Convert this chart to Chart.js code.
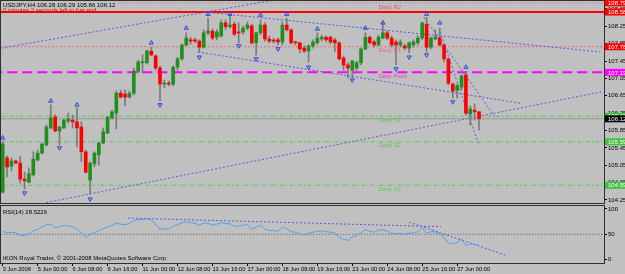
<!DOCTYPE html>
<html><head><meta charset="utf-8">
<script src="https://cdn.jsdelivr.net/npm/chart.js@4.4.1/dist/chart.umd.min.js"></script>
<style>
html,body{margin:0;padding:0;background:#c0c0c0;width:625px;height:274px;overflow:hidden}
#c1{position:absolute;left:0;top:0}
#c2{position:absolute;left:0;top:205px}
</style></head><body>
<canvas id="c1" width="625" height="205"></canvas>
<canvas id="c2" width="625" height="69"></canvas>
<script>
// ---------------- DATA ----------------
const symbol = 'USDJPY', timeframe = 'H4';
const opens = [104.43,105.22,105.03,105.15,105.10,104.73,104.66,104.83,105.17,105.33,
105.52,105.91,106.16,105.84,105.91,106.07,106.09,106.05,105.93,105.36,
104.71,105.08,105.29,105.56,105.79,106.14,106.25,106.71,106.69,106.62,
106.71,107.22,107.41,107.41,107.68,107.57,107.29,106.92,106.94,106.92,
107.31,107.50,107.82,107.94,107.94,107.91,107.77,108.10,108.14,108.00,
108.03,108.33,108.24,108.30,108.12,108.12,108.21,108.26,107.87,108.10,
108.28,107.96,107.92,107.94,107.89,108.28,108.17,107.89,107.87,107.75,
107.68,107.80,107.87,107.96,108.00,108.00,107.94,107.87,107.52,107.36,
107.24,107.29,107.41,107.73,108.00,107.89,107.82,107.98,108.10,107.98,
107.89,107.82,107.80,107.75,107.82,107.87,107.98,108.30,107.77,107.96,
107.98,107.82,107.50,106.92,106.78,106.85,107.13,106.23,106.32,106.28];
const highs = [105.59,105.26,105.22,105.17,105.26,104.89,104.99,105.36,105.40,105.56,
105.98,106.44,106.21,105.95,106.12,106.25,106.21,106.37,106.05,105.40,
105.13,105.36,105.59,105.91,106.18,106.32,106.76,106.78,106.78,106.76,
107.29,107.47,107.59,107.71,107.77,107.59,107.34,107.01,106.99,107.34,
107.54,107.84,108.10,108.00,107.98,107.94,108.17,108.44,108.19,108.17,
108.40,108.40,108.49,108.35,108.33,108.26,108.35,108.30,108.12,108.40,
108.33,108.03,107.98,107.98,108.35,108.44,108.19,107.91,107.89,107.80,
107.82,107.94,108.10,108.05,108.03,108.03,107.98,107.89,107.57,107.41,
107.47,107.45,107.75,108.10,108.03,107.94,108.05,108.33,108.14,108.03,
107.94,107.94,107.84,107.89,107.94,108.03,108.35,108.46,108.00,108.17,
108.21,107.84,107.52,106.94,106.92,107.13,107.20,106.42,106.46,106.29];
const lows = [104.41,104.78,104.92,105.08,104.64,104.50,104.64,104.80,105.15,105.31,
105.49,105.89,105.82,105.52,105.89,106.02,105.91,105.47,105.13,104.87,
104.39,105.01,105.06,105.54,105.77,106.12,105.89,106.60,106.42,106.60,
106.67,107.18,107.20,107.38,107.57,107.24,106.53,106.83,106.88,106.88,
107.24,107.47,107.80,107.84,107.87,107.64,107.75,108.05,107.94,107.94,
108.00,108.17,108.21,108.03,107.87,108.07,108.17,107.84,107.59,108.05,
107.91,107.87,107.87,107.82,107.82,108.14,107.84,107.82,107.64,107.64,
107.43,107.75,107.84,107.91,107.89,107.84,107.66,107.47,107.24,107.06,
107.06,107.24,107.36,107.71,107.84,107.77,107.80,107.96,107.94,107.77,
107.36,107.77,107.71,107.64,107.77,107.82,107.94,107.66,107.73,107.94,
107.80,107.43,106.90,106.60,106.60,106.78,106.21,105.98,106.09,105.86];
const closes = [105.54,105.01,105.15,105.10,104.73,104.69,104.85,105.19,105.33,105.54,
105.93,106.14,105.84,105.93,106.09,106.12,106.05,105.91,105.36,104.89,
105.10,105.33,105.56,105.82,106.16,106.28,106.71,106.62,106.62,106.71,
107.22,107.43,107.43,107.68,107.59,107.29,106.92,106.94,106.92,107.31,
107.50,107.82,107.98,107.91,107.91,107.77,108.10,108.14,107.98,108.12,
108.33,108.24,108.28,108.07,108.10,108.21,108.28,107.87,108.10,108.28,
107.96,107.91,107.91,107.89,108.28,108.17,107.87,107.87,107.73,107.68,
107.80,107.89,107.98,108.00,107.94,107.89,107.87,107.50,107.36,107.29,
107.45,107.41,107.73,108.00,107.87,107.82,108.00,108.10,107.98,107.82,
107.82,107.89,107.75,107.87,107.89,107.98,108.33,107.77,107.98,108.00,
107.82,107.50,106.94,106.76,106.88,107.11,106.25,106.35,106.28,106.12];
const rsiValues = [56,53,54,53,48,47,51,57,60,64,
69,70,63,65,67,67,65,60,52,44,
50,53,57,61,65,67,72,70,69,71,
77,79,79,81,78,70,60,61,60,66,
69,73,75,73,72,68,72,72,68,70,
73,71,71,66,66,68,69,60,64,68,
60,58,57,56,64,61,55,54,51,49,
52,54,56,57,55,54,53,44,40,38,
45,47,53,59,56,54,58,59,56,52,
51,52,50,52,53,55,63,52,55,55,
51,43,33,31,34,40,28,31,30,28.5226];
const timeTickLabels = ['3 Jun 2008','5 Jun 00:00','6 Jun 08:00','9 Jun 16:00','11 Jun 00:00','12 Jun 08:00','13 Jun 16:00','17 Jun 00:00','18 Jun 08:00','19 Jun 16:00','23 Jun 00:00','24 Jun 08:00','25 Jun 16:00','27 Jun 00:00'];
const barsPerTimeTick = 8;
const priceTicks = [104.25,104.65,105.05,105.45,105.85,106.25,106.65,107.05,107.45,107.85,108.25,108.65];
const rsiTicks = [0,50,100];
const rsiLevel = 50;
const pivotNames = ['Daily R2','Daily R1','Daily Pivot','Daily S1','Daily S2','Daily S3'];
const pivotValues = [108.79,107.78,107.19,106.18,105.59,104.59];
const resistanceLevel = 108.58;
const fractalUpBars = [0,11,17,34,42,47,52,59,65,72,83,87,97,100,106];
const fractalUpPrices = [105.68,106.53,106.44,107.87,108.21,108.53,108.53,108.51,108.53,108.19,108.21,108.33,108.53,108.33,107.31];
const fractalDownBars = [5,13,20,36,45,54,58,63,70,80,90,93,97,103];
const fractalDownPrices = [104.41,105.45,104.27,106.44,107.54,107.80,107.50,107.73,107.31,107.01,107.27,107.54,107.59,106.51];
const trendStartBars = [-0.2,46.3,44.7,10,96.4,100.1];
const trendStartPrices = [107.75,108.58,107.66,104.19,108.46,108.12];
const trendEndBars = [63.5,136.7,118.4,137,112.7,108.8];
const trendEndPrices = [108.88,107.66,106.48,106.74,106.16,105.56];
const rsiTrendStartBars = [28.7,93];
const rsiTrendStartValues = [82,74];
const rsiTrendEndBars = [100.3,115];
const rsiTrendEndValues = [65,9];
const pivotTextBar = 86;

// ---------------- STYLE ----------------
const FONT_FAMILY = '"Liberation Sans", Arial, sans-serif';
const FONT = '6px ' + FONT_FAMILY;
Chart.defaults.font.family = FONT_FAMILY;
Chart.defaults.font.size = 6;
Chart.defaults.color = '#000';
const BULL = '#1f8f1f', BEAR = '#ff0000', WICK = '#7a7a7a';
const TREND = '#5a5ad6';
const pivotLineColors = ['#e06a6a','#e06a78','#ff00ff','#50c850','#50c850','#50c850'];
const pivotLineDash = [[1,2],[2,2],[10,5],[4,2,1,2],[4,2,1,2],[4,2,1,2]];
const pivotLineWidth = [1,1,2,1,1,1];
const pivotTextColors = ['#e05a6a','#e06a80','#e040d0','#58c858','#58c858','#58c858'];
const pivotBoxColors = ['#ff0000','#ff0000','#ff00ff','#40c040','#40c040','#40c040'];
const X_MIN = -0.39, X_MAX = 137.6;

const barIdx = opens.map((_, i) => i);
const lastBar = barIdx.length - 1;
const bidPrice = closes[lastBar];

function lineDs(points, color, dash, width, order) {
  return {type:'line', data: points, borderColor: color, borderDash: dash, borderWidth: width,
    pointRadius: 0, fill: false, tension: 0, order: order};
}
function noPad(s){ s.paddingTop = 0; s.paddingBottom = 0; s.paddingLeft = 0; s.paddingRight = 0; }

const mainDatasets = [];
mainDatasets.push({type:'line', data: fractalUpBars.map((b,k)=>({x:b, y:fractalUpPrices[k]})),
  showLine:false, pointStyle:'triangle', pointRadius:2.4, pointBorderWidth:1,
  pointBackgroundColor:'rgba(120,140,235,0.35)', pointBorderColor:'#3048e0', order:0});
mainDatasets.push({type:'line', data: fractalDownBars.map((b,k)=>({x:b, y:fractalDownPrices[k]})),
  showLine:false, pointStyle:'triangle', pointRotation:180, pointRadius:2.4, pointBorderWidth:1,
  pointBackgroundColor:'rgba(120,140,235,0.35)', pointBorderColor:'#3048e0', order:0});
mainDatasets.push({type:'bar', data: barIdx.map(i=>({x:i, y:[opens[i], closes[i]]})),
  backgroundColor: barIdx.map(i => closes[i] >= opens[i] ? BULL : BEAR),
  barThickness:3, grouped:false, minBarLength:1, borderWidth:0, order:1});
mainDatasets.push({type:'bar', data: barIdx.map(i=>({x:i, y:[lows[i], highs[i]]})),
  backgroundColor: WICK, barThickness:1, grouped:false, borderWidth:0, order:2});
trendStartBars.forEach((b,k)=>{
  mainDatasets.push(lineDs([{x:b,y:trendStartPrices[k]},{x:trendEndBars[k],y:trendEndPrices[k]}], TREND, [2,2], 1, 3));
});
pivotValues.forEach((v,k)=>{
  mainDatasets.push(lineDs([{x:X_MIN-2,y:v},{x:X_MAX+2,y:v}], pivotLineColors[k], pivotLineDash[k], pivotLineWidth[k], 4));
});
mainDatasets.push(lineDs([{x:X_MIN-2,y:resistanceLevel},{x:X_MAX+2,y:resistanceLevel}], '#ff0000', [], 2, 4));
mainDatasets.push(lineDs([{x:X_MIN-2,y:bidPrice},{x:X_MAX+2,y:bidPrice}], '#969696', [], 1, 5));

function drawFrame(chart) {
  const {ctx, chartArea:a} = chart;
  ctx.save();
  ctx.strokeStyle = '#303030'; ctx.lineWidth = 1;
  ctx.strokeRect(a.left-0.5, a.top-0.5, a.right-a.left+1, a.bottom-a.top+1);
  ctx.restore();
}

const mainDecor = {
  id:'mainDecor',
  afterDatasetsDraw(chart) {
    const {ctx, scales:{x, y}} = chart;
    ctx.save();
    ctx.font = FONT; ctx.textBaseline = 'middle'; ctx.textAlign = 'left';
    pivotNames.forEach((n,k)=>{
      ctx.fillStyle = pivotTextColors[k];
      ctx.fillText(n, x.getPixelForValue(pivotTextBar), y.getPixelForValue(pivotValues[k]) + 4);
    });
    ctx.restore();
  },
  afterDraw(chart) {
    const {ctx, scales:{y}, chartArea:a} = chart;
    drawFrame(chart);
    ctx.save();
    ctx.font = FONT; ctx.textBaseline = 'middle'; ctx.textAlign = 'left';
    const title = symbol + ',' + timeframe + ' ' + [opens[lastBar],highs[lastBar],lows[lastBar],closes[lastBar]].map(v=>v.toFixed(2)).join(' ');
    const tw = ctx.measureText(title).width;
    ctx.fillStyle = '#c0c0c0'; ctx.fillRect(a.left+1, a.top, tw+3, 7);
    ctx.fillStyle = '#000'; ctx.fillText(title, a.left+2, a.top+4);
    ctx.fillStyle = '#e00000'; ctx.fillText('0 minutes 2 seconds left to bar end', a.left+2, a.top+9);
    // price boxes on axis
    const boxes = pivotValues.map((v,k)=>[v, pivotBoxColors[k]]);
    boxes.push([resistanceLevel, '#ff0000']);
    boxes.push([bidPrice, '#000000']);
    boxes.forEach(([v,c])=>{
      const py = y.getPixelForValue(v);
      ctx.fillStyle = c; ctx.fillRect(a.right+1, py-3.5, 625-a.right, 7);
      ctx.fillStyle = '#fff'; ctx.fillText(v.toFixed(2), a.right+4, py+0.5);
    });
    ctx.restore();
  }
};

new Chart(document.getElementById('c1'), {
  type:'bar',
  data:{datasets: mainDatasets},
  options:{
    responsive:false, animation:false, events:[],
    layout:{autoPadding:false, padding:{left:1, top:1, right:0, bottom:2}},
    plugins:{legend:{display:false}, tooltip:{enabled:false}},
    scales:{
      x:{type:'linear', display:false, min:X_MIN, max:X_MAX, offset:false, afterFit:noPad},
      y:{type:'linear', position:'right', min:104.18, max:108.834,
        afterFit(s){ s.width = 21; noPad(s); },
        afterBuildTicks(s){ s.ticks = priceTicks.map(v=>({value:v})); },
        grid:{drawOnChartArea:false, drawTicks:true, tickLength:3, color:'#000'},
        border:{display:false},
        ticks:{padding:1, font:{size:6}, color:'#000', callback:v=>Number(v).toFixed(2)}}
    }
  },
  plugins:[mainDecor]
});

// ---------------- RSI ----------------
const rsiDatasets = [];
rsiDatasets.push(lineDs(barIdx.map(i=>({x:i, y:rsiValues[i]})), '#4aa2f2', [], 1, 0));
rsiDatasets.push(lineDs([{x:X_MIN-2,y:rsiLevel},{x:X_MAX+2,y:rsiLevel}], '#505050', [1,2], 1, 2));
rsiTrendStartBars.forEach((b,k)=>{
  rsiDatasets.push(lineDs([{x:b,y:rsiTrendStartValues[k]},{x:rsiTrendEndBars[k],y:rsiTrendEndValues[k]}], TREND, [2,2], 1, 1));
});

const rsiDecor = {
  id:'rsiDecor',
  afterDraw(chart) {
    const {ctx, chartArea:a} = chart;
    drawFrame(chart);
    ctx.save();
    ctx.font = FONT; ctx.textBaseline = 'middle'; ctx.textAlign = 'left'; ctx.fillStyle = '#000';
    ctx.fillText('RSI(14) ' + rsiValues[lastBar].toFixed(4), a.left+2, a.top+6);
    ctx.fillText('IKON Royal Trader, \u00a9 2001-2008 MetaQuotes Software Corp.', a.left+2, a.bottom-5);
    ctx.restore();
  }
};

new Chart(document.getElementById('c2'), {
  type:'line',
  data:{datasets: rsiDatasets},
  options:{
    responsive:false, animation:false, events:[],
    layout:{autoPadding:false, padding:{left:1, top:1, right:0, bottom:0}},
    plugins:{legend:{display:false}, tooltip:{enabled:false}},
    scales:{
      x:{type:'linear', position:'bottom', min:X_MIN, max:X_MAX, offset:false,
        afterFit(s){ s.height = 11; noPad(s); },
        afterBuildTicks(s){ s.ticks = timeTickLabels.map((_,k)=>({value:k*barsPerTimeTick})); },
        grid:{drawOnChartArea:false, drawTicks:true, tickLength:3, color:'#000'},
        border:{display:false},
        ticks:{align:'start', padding:0, autoSkip:false, maxRotation:0, font:{size:5.7}, color:'#000',
          callback:(v,idx)=>timeTickLabels[idx]}},
      y:{type:'linear', position:'right', min:-6.7, max:105.9,
        afterFit(s){ s.width = 21; noPad(s); },
        afterBuildTicks(s){ s.ticks = rsiTicks.map(v=>({value:v})); },
        grid:{drawOnChartArea:false, drawTicks:true, tickLength:3, color:'#000'},
        border:{display:false},
        ticks:{padding:1, font:{size:6}, color:'#000'}}
    }
  },
  plugins:[rsiDecor]
});
</script>
</body></html>
